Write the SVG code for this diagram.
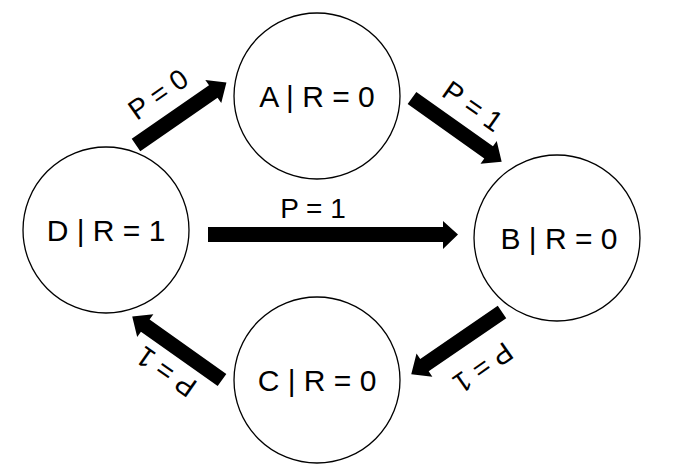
<svg xmlns="http://www.w3.org/2000/svg" xmlns:xlink="http://www.w3.org/1999/xlink" width="682" height="476" viewBox="0 0 682 476">
<style>
.node circle{fill:#fff;stroke:#000;stroke-width:1.3}
.node text{font-family:"Liberation Sans",Arial,sans-serif;font-size:30px;fill:#000;text-anchor:middle}
.lbl{font-family:"Liberation Sans",Arial,sans-serif;font-size:28px;fill:#000;text-anchor:middle}
.arrow{fill:#000}
</style>
<defs>
<path id="arr" d="M0,-7.5 H94 V-14 L110,0 L94,14 V7.5 H0 Z"/>
</defs>
<rect width="682" height="476" fill="#fff"/>
<g id="connectors">
<use xlink:href="#arr" class="arrow" transform="translate(136,145) rotate(-34.7)"/>
<use xlink:href="#arr" class="arrow" transform="translate(412,98) rotate(35.4)"/>
<use xlink:href="#arr" class="arrow" transform="translate(502,312) rotate(145.6)"/>
<use xlink:href="#arr" class="arrow" transform="translate(222,380) rotate(215.3)"/>
<polygon class="arrow" points="208,227 443,227 443,221 458,234.5 443,249 443,242 208,242"/>
<text class="lbl" transform="translate(158,94) rotate(-35)" y="10">P = 0</text>
<text class="lbl" transform="translate(473,106) rotate(35)" y="10">P = 1</text>
<text class="lbl" transform="translate(483,368) rotate(145)" y="10">P = 1</text>
<text class="lbl" transform="translate(166,372) rotate(215)" y="10">P = 1</text>
<text class="lbl" x="313" y="218">P = 1</text>
</g>
<g id="nodeA" class="node"><circle cx="317" cy="96" r="83"/><text x="317" y="107">A | R = 0</text></g>
<g id="nodeB" class="node"><circle cx="557" cy="238" r="83"/><text x="559" y="249">B | R = 0</text></g>
<g id="nodeC" class="node"><circle cx="317" cy="380" r="83"/><text x="317" y="391">C | R = 0</text></g>
<g id="nodeD" class="node"><circle cx="106" cy="230" r="83"/><text x="106" y="241">D | R = 1</text></g>
</svg>
